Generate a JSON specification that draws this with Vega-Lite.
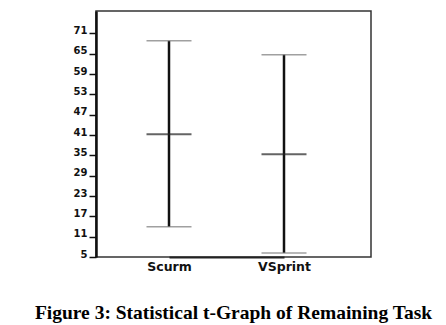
{
  "$schema": "https://vega.github.io/schema/vega-lite/v6.json",
  "autosize": "none",
  "width": 275,
  "height": 246,
  "padding": {"left": 96, "top": 11, "right": 75, "bottom": 68},
  "background": "white",
  "config": {
    "view": {"stroke": "#333", "strokeWidth": 1.5},
    "axis": {"labelOverlap": false, "labelBound": false}
  },
  "title": {
    "text": "Figure 3: Statistical t-Graph of Remaining Task",
    "orient": "bottom",
    "anchor": "middle",
    "frame": "group",
    "font": "Liberation Serif",
    "fontSize": 19.5,
    "fontWeight": "bold",
    "color": "black",
    "offset": 31
  },
  "data": {
    "values": [
      {"group": "Scurm", "low": 13.9, "mean": 41.2, "high": 68.8},
      {"group": "VSprint", "low": 6.2, "mean": 35.3, "high": 64.7}
    ]
  },
  "encoding": {
    "x": {
      "field": "group",
      "type": "nominal",
      "sort": ["Scurm", "VSprint"],
      "scale": {"type": "point", "range": [73, 188], "padding": 0},
      "axis": {
        "title": null,
        "labelAngle": 0,
        "ticks": false,
        "domainColor": "#222",
        "domainWidth": 2,
        "labelFont": "DejaVu Sans",
        "labelFontWeight": "bold",
        "labelFontSize": 12.5,
        "labelColor": "#111",
        "labelPadding": 3
      }
    }
  },
  "layer": [
    {
      "mark": {"type": "rule", "color": "#111", "strokeWidth": 2.5},
      "encoding": {
        "y": {
          "field": "low",
          "type": "quantitative",
          "scale": {"domain": [5, 77.6], "nice": false, "zero": false},
          "axis": {
            "title": null,
            "values": [5, 11, 17, 23, 29, 35, 41, 47, 53, 59, 65, 71],
            "tickCount": 20,
            "labelOverlap": false,
            "grid": false,
            "domainColor": "#111",
            "domainWidth": 2.5,
            "tickColor": "#111",
            "tickWidth": 1.5,
            "tickSize": 7,
            "labelPadding": 2,
            "labelFont": "DejaVu Sans",
            "labelFontWeight": "bold",
            "labelFontSize": 10,
            "labelColor": "#111",
            "labelBaseline": "alphabetic"
          }
        },
        "y2": {"field": "high"}
      }
    },
    {
      "mark": {"type": "tick", "color": "#777", "thickness": 1.5, "size": 45},
      "encoding": {"y": {"field": "low", "type": "quantitative"}}
    },
    {
      "mark": {"type": "tick", "color": "#777", "thickness": 1.5, "size": 45},
      "encoding": {"y": {"field": "high", "type": "quantitative"}}
    },
    {
      "mark": {"type": "tick", "color": "#222", "thickness": 2, "size": 45},
      "encoding": {"y": {"field": "mean", "type": "quantitative"}}
    }
  ]
}
